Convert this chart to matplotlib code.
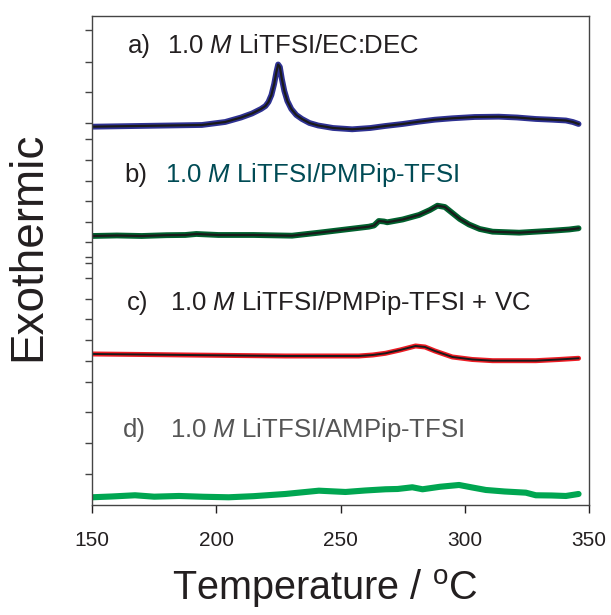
import matplotlib
matplotlib.use("Agg")
from matplotlib import pyplot as plt

plt.rcParams['font.family'] = ['Liberation Sans', 'DejaVu Sans']
plt.rcParams['mathtext.fontset'] = 'custom'
plt.rcParams['mathtext.rm'] = 'Liberation Sans'
plt.rcParams['mathtext.it'] = 'Liberation Sans:italic'

# DSC traces, signal in arbitrary units (stacked)
temp_a = [150, 194.2, 203.6, 210, 214.4, 218, 219.8, 221, 222.2, 223.3, 224.2, 224.9, 225.6, 226.4, 227.4, 228.6, 230.2, 232.2, 234.5, 237.5, 241, 247, 254.7, 262, 268, 275, 281.5, 288, 295, 304, 313.7, 321, 328.6, 335, 340.7, 343.5, 345.8]
sig_a = [378.3, 380, 383, 387.5, 391.5, 396, 399, 403, 410, 421, 433, 440.5, 438, 426, 414, 404, 396, 390, 386, 382, 379.5, 377, 375.7, 377, 379, 381, 383.3, 385.3, 386.7, 388, 388.3, 387.5, 386, 385.3, 384.5, 383, 381]

temp_b = [150, 160, 170, 180, 187.5, 192, 200.9, 215, 230.5, 241.3, 252, 261.4, 263.5, 265.4, 267.5, 268.8, 275, 281.6, 286, 289, 292, 295, 298, 301.7, 306, 311.2, 321.9, 335.4, 342, 345.8]
sig_b = [269, 269.5, 269, 269.8, 270, 271, 270, 270, 269.3, 272.3, 275.5, 278.3, 279.5, 284, 283.5, 282.7, 285.5, 290, 295, 299.3, 298, 292, 286, 280.5, 276, 273.3, 272.3, 274.3, 275.5, 276.7]

temp_c = [150, 170, 187.5, 207, 227.8, 257.4, 263, 268.1, 274, 280.2, 284, 288, 295, 303, 311.2, 328.6, 338, 345.8]
sig_c = [151, 150.5, 150, 149.5, 149, 149, 150, 151.7, 155, 159, 158, 154, 148, 145.5, 144.3, 144.3, 145.5, 146.7]

temp_d = [150, 158, 167.3, 175, 185, 195, 205, 215, 227.8, 241.3, 252, 260, 268.1, 273, 278.9, 283, 290, 297.7, 303, 308.5, 316, 324.6, 328.6, 335, 340.7, 345.8]
sig_d = [7.7, 8.5, 9.7, 8.3, 9, 8.2, 7.7, 8.8, 11, 14.3, 13, 14.5, 15.7, 16, 17.7, 15.7, 18.2, 20, 17.5, 15, 13.5, 12.3, 9.7, 9.5, 9, 11]

yticks = [475, 443, 413, 382, 366, 345, 324, 304, 283, 263, 248, 242, 227, 206, 186, 165, 144, 123, 93, 62, 31]
xticks = [150, 200, 250, 300, 350]

fig = plt.figure(figsize=(6.11, 6.15), dpi=100)
ax = fig.add_axes([0.1506, 0.1789, 0.8134, 0.7951])

ax.plot(temp_a, sig_a, color='#2e3192', lw=4.2, solid_capstyle='round')
ax.plot(temp_a, sig_a, color='#1a1a1a', lw=1.6)
ax.plot(temp_b, sig_b, color='#00612e', lw=4.2, solid_capstyle='round')
ax.plot(temp_b, sig_b, color='#1a1a1a', lw=1.6)
ax.plot(temp_c, sig_c, color='#ed1c24', lw=3.6, solid_capstyle='round')
ax.plot(temp_c, sig_c, color='#1a1a1a', lw=1.4)
ax.plot(temp_d, sig_d, color='#00a651', lw=4.4, solid_capstyle='round')

fs = 18.5
ax.text(164.3, 452, 'a)', fontsize=fs, color='#231f20')
ax.text(180.2, 452, '1.0 $\\mathit{M}$ LiTFSI/EC:DEC', fontsize=fs, color='#231f20')
ax.text(163.1, 323, 'b)', fontsize=fs, color='#231f20')
ax.text(179.4, 323, '1.0 $\\mathit{M}$ LiTFSI/PMPip-TFSI', fontsize=fs, color='#004b55')
ax.text(164.1, 195, 'c)', fontsize=fs, color='#231f20')
ax.text(181.5, 195, '1.0 $\\mathit{M}$ LiTFSI/PMPip-TFSI + VC', fontsize=fs, color='#231f20')
ax.text(162.3, 68, 'd)', fontsize=fs, color='#555555')
ax.text(181.5, 68, '1.0 $\\mathit{M}$ LiTFSI/AMPip-TFSI', fontsize=fs, color='#555555')

ax.set_xlim(150, 350)
ax.set_ylim(0, 489)
ax.set_xticks(xticks)
ax.set_yticks(yticks)
ax.set_yticklabels([])
ax.tick_params(axis='x', direction='out', length=6, width=1, labelsize=15, pad=13, colors='#231f20')
ax.tick_params(axis='y', direction='out', length=5, width=1, colors='#444444')
for s in ax.spines.values():
    s.set_color('#444444')
    s.set_linewidth(1)

ax.set_xlabel('Temperature / $^{\\mathrm{o}}$C', fontsize=28.5, color='#231f20')
ax.xaxis.set_label_coords(0.469, -0.128)
ax.set_ylabel('Exothermic', fontsize=33, color='#231f20')
ax.yaxis.set_label_coords(-0.085, 0.53)

fig.savefig('out.png', dpi=100)
